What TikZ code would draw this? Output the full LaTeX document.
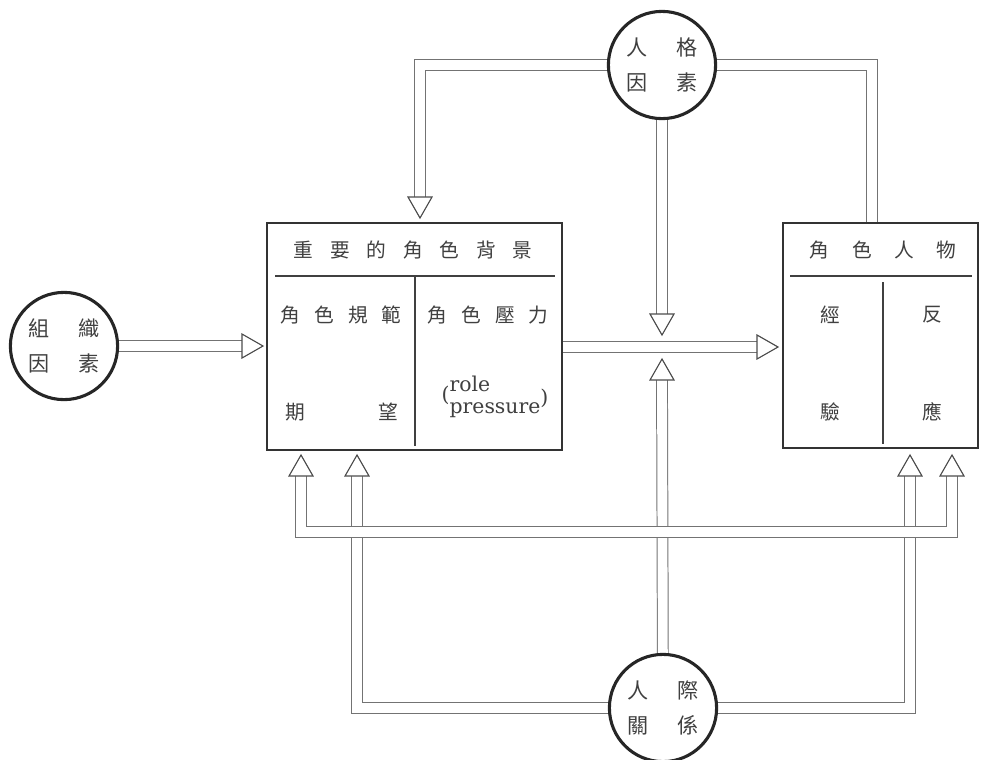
\documentclass[tikz,border=0pt]{standalone}
\usepackage{fontspec}
\newfontfamily\cjk{Noto Sans CJK TC}
\newfontfamily\lat{DejaVu Serif}
\usetikzlibrary{backgrounds}
\tikzset{
  ring/.style={circle,draw=black!85,line width=2.2pt,fill=white,minimum size=2.68cm,
    inner sep=0pt,align=center,font=\cjk\fontsize{15}{25}\selectfont,text=black!75},
  panel/.style={draw=black!80,line width=1.2pt,fill=white,inner sep=0pt},
  pipe/.style={draw=black!55,line width=0.7pt,double=white,double distance=7pt},
  tri/.style={draw=black!70,line width=0.8pt,fill=white,line join=miter},
  word/.style={font=\cjk\fontsize{14}{16}\selectfont,text=black!75,inner sep=0pt},
  tipright/.pic={\draw[tri] (0,-12) -- (21,0) -- (0,12) -- cycle;},
  tipdown/.pic={\draw[tri] (-12,0) -- (0,21) -- (12,0) -- cycle;},
  tipup/.pic={\draw[tri] (-12,0) -- (0,-21) -- (12,0) -- cycle;},
}
\begin{document}
\begin{tikzpicture}[x=0.025cm,y=-0.025cm]
  \useasboundingbox (0,0) rectangle (981,759);
  % factors
  \node[ring] (L) at (64,346) {組\hspace{20pt}織\\因\hspace{20pt}素};
  \node[ring] (T) at (662,65) {人\hspace{20pt}格\\因\hspace{20pt}素};
  \node[ring] (B) at (663,708) {人\hspace{20pt}際\\關\hspace{20pt}係};

  % role setting
  \node[panel,minimum width=7.375cm,minimum height=5.675cm] (box1) at (414.5,336.5) {};
  \draw[black!75,line width=0.8pt] (275,276) -- (555,276) (415,276) -- (415,446);
  \node[word] (h1) at (413,250) {重\hspace{12pt}要\hspace{12pt}的\hspace{12pt}角\hspace{12pt}色\hspace{12pt}背\hspace{12pt}景};
  \node[word] (n1) at (341,315) {角\hspace{10pt}色\hspace{10pt}規\hspace{10pt}範};
  \node[word] (n2) at (488,315) {角\hspace{10pt}色\hspace{10pt}壓\hspace{10pt}力};
  \node[word] (n3) at (295,412) {期};
  \node[word] (n4) at (388,412) {望};
  \node[font=\lat\fontsize{14.5}{16}\selectfont,text=black!75,inner sep=0pt] (n5) at (495,398)
    {\raisebox{1pt}{(}\begin{tabular}{@{}l@{}}role\\[-1pt]pressure\end{tabular}\raisebox{-1pt}{)}};

  % role person
  \node[panel,minimum width=4.875cm,minimum height=5.625cm] (box2) at (880.5,335.5) {};
  \draw[black!75,line width=0.8pt] (790,276) -- (972,276) (883,282) -- (883,444);
  \node[word] (h2) at (883,250) {角\hspace{16pt}色\hspace{16pt}人\hspace{16pt}物};
  \node[word] (m1) at (830,315) {經};
  \node[word] (m2) at (932,315) {反};
  \node[word] (m3) at (830,412) {驗};
  \node[word] (m4) at (932,412) {應};

  % pipe ends
  \coordinate (a1) at (242,346);
  \coordinate (a2) at (420,197);
  \coordinate (a3) at (662,314);
  \coordinate (a4) at (872,223);
  \coordinate (a5) at (757,347);
  \coordinate (a6) at (662,380);
  \coordinate (a7) at (357,476);
  \coordinate (a8) at (910,476);
  \coordinate (a9) at (301,476);
  \coordinate (a10) at (952,476);

  \begin{pgfonlayer}{background}
    \draw[pipe] (L) -- (a1);
    \draw[pipe] (T) -| (a2);
    \draw[pipe] (T) -- (a3);
    \draw[pipe] (a4) |- (T);
    \draw[pipe] (box1.east |- a5) -- (a5);
    \draw[pipe] (B) -- (a6);
    \draw[pipe] (B) -| (a7);
    \draw[pipe] (B) -| (a8);
    \draw[pipe] (a9) -- ++(0,56) -| (a10);
  \end{pgfonlayer}

  \pic at (a1) {tipright};
  \pic at (a2) {tipdown};
  \pic at (a3) {tipdown};
  \pic at (a5) {tipright};
  \pic at (a6) {tipup};
  \pic at (a7) {tipup};
  \pic at (a8) {tipup};
  \pic at (a9) {tipup};
  \pic at (a10) {tipup};
\end{tikzpicture}
\end{document}
